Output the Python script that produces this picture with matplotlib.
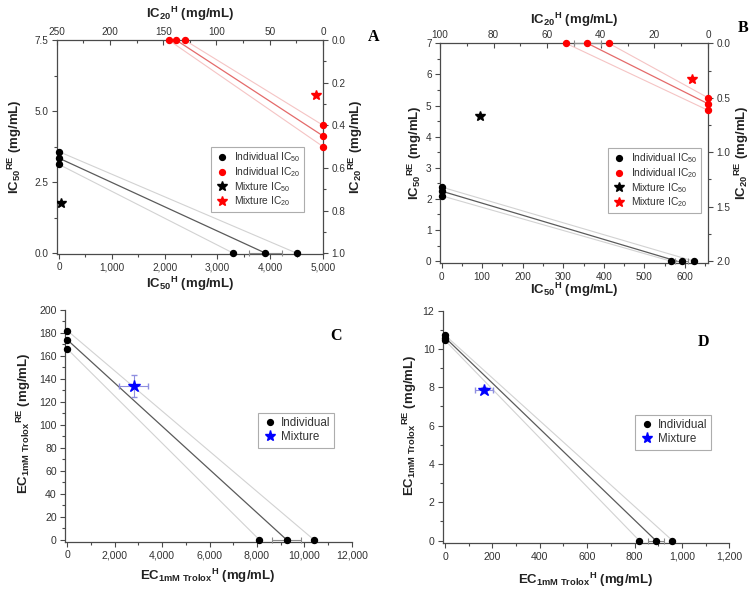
import matplotlib
matplotlib.use('Agg')
import matplotlib.pyplot as plt
from matplotlib.ticker import MultipleLocator, FuncFormatter
from matplotlib.lines import Line2D

plt.rcParams['font.family'] = ['Liberation Sans', 'DejaVu Sans']
plt.rcParams['mathtext.fontset'] = 'custom'
plt.rcParams['mathtext.rm'] = 'Liberation Sans'
plt.rcParams['mathtext.it'] = 'Liberation Sans:italic'
plt.rcParams['mathtext.bf'] = 'Liberation Sans:bold'

# ---------------- data ----------------
# Panel A
a_ic50_h = [3300, 3910, 4500]          # individual IC50 of H (RE = 0)
a_ic50_re = [3.12, 3.34, 3.57]         # individual IC50 of RE (H = 0)
a_ic50_h_err = 310
a_mix50_h, a_mix50_re = 30, 1.77
a_ic20_h = [145, 138, 130]
a_ic20_re = [0.40, 0.45, 0.50]
a_mix20_h, a_mix20_re = 6.4, 0.26

# Panel B
b_ic50_h = [565, 592, 622]
b_ic50_re = [2.10, 2.25, 2.38]
b_ic50_h_err = 16
b_iso50 = [580, 2.25]
b_mix50_h, b_mix50_re = 95, 4.67
b_ic20_h = [53, 45, 37]
b_ic20_re = [0.50, 0.555, 0.615]
b_ic20_h_err = 5
b_mix20_h, b_mix20_re = 6.0, 0.33

# Panel C
c_ec_h = [8100, 9250, 10400]
c_ec_re = [166, 174, 182]
c_ec_h_err = 600
c_mix_h, c_mix_re = 2810, 134
c_mix_h_err, c_mix_re_err = 610, 9.5

# Panel D
d_ec_h = [820, 890, 960]
d_ec_re = [10.45, 10.6, 10.72]
d_ec_h_err = 34
d_mix_h, d_mix_re = 165, 7.86
d_mix_h_err, d_mix_re_err = 38, 0.15

# ---------------- figure ----------------
W, H = 756, 599
fig = plt.figure(figsize=(W / 100, H / 100), dpi=100)


def rect(l, t, r, b):
    return [l / W, 1 - b / H, (r - l) / W, (b - t) / H]


def ftext(x, y, s, **kw):
    fig.text(x / W, 1 - y / H, s, **kw)


SPINE = '#4a4a4a'
TXT = '#333333'
FAINT = '#d2d2d2'
FAINT_R = '#f5c4c4'
MAIN = '#5a5a5a'
MAIN_R = '#e46a6a'
ERRC = '#8a8a8a'
LBL = dict(fontsize=9.5, fontweight='bold', color='#222222', ha='center', va='center')
comma = FuncFormatter(lambda v, p: f'{v:,.0f}')


def style(ax, spines=('left', 'bottom', 'top', 'right'), ls=7.2):
    for s in ax.spines:
        ax.spines[s].set_visible(s in spines)
        ax.spines[s].set_color(SPINE)
        ax.spines[s].set_linewidth(0.9)
    ax.tick_params(which='both', colors=SPINE, labelcolor=TXT, labelsize=ls, width=0.8,
                   pad=2.5)
    ax.tick_params(which='major', length=3.5)
    ax.tick_params(which='minor', length=2)


def isobole(ax, hs, rs, hmid, rmid, main, faint):
    hs_s, rs_s = sorted(hs), sorted(rs)
    ax.plot([0, hs_s[0]], [rs_s[0], 0], color=faint, lw=0.8, zorder=2)
    ax.plot([0, hs_s[-1]], [rs_s[-1], 0], color=faint, lw=0.8, zorder=2)
    ax.plot([0, hmid], [rmid, 0], color=main, lw=0.9, zorder=3)


def points(ax, hs, rs, color):
    ax.plot(hs, [0] * len(hs), 'o', color=color, ms=4.3, clip_on=False, zorder=5, ls='none')
    ax.plot([0] * len(rs), rs, 'o', color=color, ms=4.3, clip_on=False, zorder=5, ls='none')


def legend4(ax, x, y):
    hdl = [Line2D([], [], marker='o', color='black', ls='none', ms=4.2),
           Line2D([], [], marker='o', color='red', ls='none', ms=4.2),
           Line2D([], [], marker='*', color='black', ls='none', ms=7),
           Line2D([], [], marker='*', color='red', ls='none', ms=7)]
    lab = ['Individual IC$_{\\mathrm{50}}$', 'Individual IC$_{\\mathrm{20}}$',
           'Mixture IC$_{\\mathrm{50}}$', 'Mixture IC$_{\\mathrm{20}}$']
    lg = ax.legend(hdl, lab, loc='upper left', bbox_to_anchor=(x / W, 1 - y / H),
                   bbox_transform=fig.transFigure, fontsize=7.4, frameon=True,
                   fancybox=False, edgecolor='#999999', borderaxespad=0,
                   handletextpad=0.4, labelspacing=0.08, borderpad=0.35, handlelength=1.5)
    lg.get_frame().set_linewidth(0.8)
    for t in lg.get_texts():
        t.set_color(TXT)


def legend2(ax, x, y, mixcolor):
    hdl = [Line2D([], [], marker='o', color='black', ls='none', ms=4.2),
           Line2D([], [], marker='*', color=mixcolor, ls='none', ms=8)]
    lg = ax.legend(hdl, ['Individual', 'Mixture'], loc='upper left',
                   bbox_to_anchor=(x / W, 1 - y / H), bbox_transform=fig.transFigure,
                   fontsize=8.4, frameon=True, fancybox=False, edgecolor='#999999',
                   borderaxespad=0, handletextpad=0.3, labelspacing=0.2, borderpad=0.35,
                   handlelength=1.3)
    lg.get_frame().set_linewidth(0.8)
    for t in lg.get_texts():
        t.set_color(TXT)


# ================= Panel A =================
rA = rect(56.7, 40, 323, 254)
ax = fig.add_axes(rA)
style(ax)
ax.set_xlim(-45, 5000)
ax.set_ylim(-0.03, 7.5)
ax.xaxis.set_major_locator(MultipleLocator(1000))
ax.xaxis.set_minor_locator(MultipleLocator(500))
ax.xaxis.set_major_formatter(comma)
ax.yaxis.set_major_locator(MultipleLocator(2.5))
ax.yaxis.set_minor_locator(MultipleLocator(1.25))
ax.yaxis.set_major_formatter(FuncFormatter(lambda v, p: f'{v:.1f}'))
ax.tick_params(top=False, right=False)
isobole(ax, a_ic50_h, a_ic50_re, a_ic50_h[1], a_ic50_re[1], MAIN, FAINT)
ax.errorbar(a_ic50_h[1], 0, xerr=a_ic50_h_err, fmt='none', ecolor=ERRC, elinewidth=0.8,
            capsize=2.5, capthick=0.8, zorder=4, clip_on=False)
points(ax, a_ic50_h, a_ic50_re, 'black')
ax.plot([a_mix50_h], [a_mix50_re], '*', color='black', ms=7.5, zorder=6)

ax2 = fig.add_axes(rA, frameon=False)
style(ax2, spines=())
ax2.xaxis.tick_top()
ax2.yaxis.tick_right()
ax2.set_xlim(250, 0)
ax2.set_ylim(1.0 + 0.03 / 7.5, 0)
ax2.xaxis.set_major_locator(MultipleLocator(50))
ax2.xaxis.set_minor_locator(MultipleLocator(25))
ax2.yaxis.set_major_locator(MultipleLocator(0.2))
ax2.yaxis.set_minor_locator(MultipleLocator(0.1))
ax2.yaxis.set_major_formatter(FuncFormatter(lambda v, p: f'{v:.1f}'))
ax2.tick_params(axis='x', which='both', direction='in')
isobole(ax2, a_ic20_h, a_ic20_re, a_ic20_h[1], a_ic20_re[1], MAIN_R, FAINT_R)
points(ax2, a_ic20_h, a_ic20_re, 'red')
ax2.plot([a_mix20_h], [a_mix20_re], '*', color='red', ms=7.5, zorder=6)
legend4(ax2, 211, 147)

ftext(190, 284, r'$\mathbf{IC_{50}{}^{H}}$ (mg/mL)', **LBL)
ftext(190, 14, r'$\mathbf{IC_{20}{}^{H}}$ (mg/mL)', **LBL)
ftext(15, 147, r'$\mathbf{IC_{50}{}^{RE}}$ (mg/mL)', rotation=90, **LBL)
ftext(356, 147, r'$\mathbf{IC_{20}{}^{RE}}$ (mg/mL)', rotation=90, **LBL)
ftext(374, 37, 'A', fontsize=11.5, fontweight='bold', family='Liberation Serif',
      ha='center', va='center')

# ================= Panel B =================
rB = rect(440, 43.3, 708, 263.3)
bx = fig.add_axes(rB)
style(bx)
bx.set_xlim(-4, 657)
bx.set_ylim(-0.07, 7)
bx.xaxis.set_major_locator(MultipleLocator(100))
bx.xaxis.set_minor_locator(MultipleLocator(50))
bx.yaxis.set_major_locator(MultipleLocator(1))
bx.yaxis.set_minor_locator(MultipleLocator(0.5))
bx.tick_params(top=False, right=False)
isobole(bx, b_ic50_h, b_ic50_re, b_iso50[0], b_iso50[1], MAIN, FAINT)
bx.errorbar(b_ic50_h[1], 0, xerr=b_ic50_h_err, fmt='none', ecolor=ERRC, elinewidth=0.8,
            capsize=2.5, capthick=0.8, zorder=4, clip_on=False)
points(bx, b_ic50_h, b_ic50_re, 'black')
bx.plot([b_mix50_h], [b_mix50_re], '*', color='black', ms=7.5, zorder=6)

bx2 = fig.add_axes(rB, frameon=False)
style(bx2, spines=())
bx2.xaxis.tick_top()
bx2.yaxis.tick_right()
bx2.set_xlim(100, 0)
bx2.set_ylim(2.0 + 0.07 * 2 / 7, 0)
bx2.xaxis.set_major_locator(MultipleLocator(20))
bx2.xaxis.set_minor_locator(MultipleLocator(10))
bx2.yaxis.set_major_locator(MultipleLocator(0.5))
bx2.yaxis.set_minor_locator(MultipleLocator(0.25))
bx2.yaxis.set_major_formatter(FuncFormatter(lambda v, p: f'{v:.1f}'))
bx2.tick_params(axis='x', which='both', direction='in')
isobole(bx2, b_ic20_h, b_ic20_re, b_ic20_h[1], b_ic20_re[1], MAIN_R, FAINT_R)
bx2.errorbar(b_ic20_h[1], 0, xerr=b_ic20_h_err, fmt='none', ecolor=ERRC, elinewidth=0.8,
             capsize=2.5, capthick=0.8, zorder=4, clip_on=False)
points(bx2, b_ic20_h, b_ic20_re, 'red')
bx2.plot([b_mix20_h], [b_mix20_re], '*', color='red', ms=7.5, zorder=6)
legend4(bx2, 608, 148)

ftext(574, 290, r'$\mathbf{IC_{50}{}^{H}}$ (mg/mL)', **LBL)
ftext(574, 20, r'$\mathbf{IC_{20}{}^{H}}$ (mg/mL)', **LBL)
ftext(415, 153, r'$\mathbf{IC_{50}{}^{RE}}$ (mg/mL)', rotation=90, **LBL)
ftext(742, 153, r'$\mathbf{IC_{20}{}^{RE}}$ (mg/mL)', rotation=90, **LBL)
ftext(743, 28, 'B', fontsize=11.5, fontweight='bold', family='Liberation Serif',
      ha='center', va='center')

# ================= Panel C =================
cx = fig.add_axes(rect(65, 310, 351.7, 542))
style(cx, spines=('left', 'bottom'), ls=7.6)
cx.set_xlim(-100, 12000)
cx.set_ylim(-2, 200)
cx.xaxis.set_major_locator(MultipleLocator(2000))
cx.xaxis.set_minor_locator(MultipleLocator(1000))
cx.xaxis.set_major_formatter(comma)
cx.yaxis.set_major_locator(MultipleLocator(20))
cx.yaxis.set_minor_locator(MultipleLocator(10))
isobole(cx, c_ec_h, c_ec_re, c_ec_h[1], c_ec_re[1], MAIN, FAINT)
cx.errorbar(c_ec_h[1], 0, xerr=c_ec_h_err, fmt='none', ecolor=ERRC, elinewidth=0.8,
            capsize=2.5, capthick=0.8, zorder=4, clip_on=False)
points(cx, c_ec_h, c_ec_re, 'black')
cx.errorbar([c_mix_h], [c_mix_re], xerr=c_mix_h_err, yerr=c_mix_re_err, fmt='*',
            color='blue', ms=9, ecolor='#8f8fe0', elinewidth=0.8, capsize=2, zorder=6)
legend2(cx, 258, 413, 'blue')
ftext(208, 576, r'$\mathbf{EC_{1mM\ Trolox}{}^{H}}$ (mg/mL)', **LBL)
ftext(24, 423, r'$\mathbf{EC_{1mM\ Trolox}{}^{RE}}$ (mg/mL)', rotation=90, **LBL)
ftext(336, 336, 'C', fontsize=11.5, fontweight='bold', family='Liberation Serif',
      ha='center', va='center')

# ================= Panel D =================
dx = fig.add_axes(rect(442.7, 310.7, 729.3, 543.3))
style(dx, spines=('left', 'bottom'), ls=7.6)
dx.set_xlim(-10, 1200)
dx.set_ylim(-0.14, 12)
dx.xaxis.set_major_locator(MultipleLocator(200))
dx.xaxis.set_minor_locator(MultipleLocator(100))
dx.xaxis.set_major_formatter(comma)
dx.yaxis.set_major_locator(MultipleLocator(2))
dx.yaxis.set_minor_locator(MultipleLocator(1))
isobole(dx, d_ec_h, d_ec_re, d_ec_h[1], d_ec_re[1], MAIN, FAINT)
dx.errorbar(d_ec_h[1], 0, xerr=d_ec_h_err, fmt='none', ecolor=ERRC, elinewidth=0.8,
            capsize=2.5, capthick=0.8, zorder=4, clip_on=False)
points(dx, d_ec_h, d_ec_re, 'black')
dx.errorbar([d_mix_h], [d_mix_re], xerr=d_mix_h_err, yerr=d_mix_re_err, fmt='*',
            color='blue', ms=9, ecolor='#8f8fe0', elinewidth=0.8, capsize=2, zorder=6)
legend2(dx, 635, 415, 'blue')
ftext(586, 580, r'$\mathbf{EC_{1mM\ Trolox}{}^{H}}$ (mg/mL)', **LBL)
ftext(410, 425, r'$\mathbf{EC_{1mM\ Trolox}{}^{RE}}$ (mg/mL)', rotation=90, **LBL)
ftext(703, 342, 'D', fontsize=11.5, fontweight='bold', family='Liberation Serif',
      ha='center', va='center')

fig.savefig('out.png', dpi=100, facecolor='white')
